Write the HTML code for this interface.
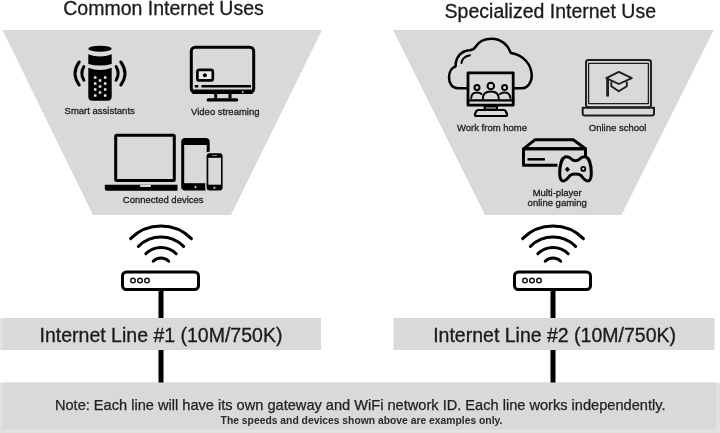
<!DOCTYPE html>
<html><head><meta charset="utf-8">
<style>
html,body{margin:0;padding:0;background:#fff;width:720px;height:433px;overflow:hidden}
svg{display:block;filter:blur(0.5px)}
text{font-family:"Liberation Sans",sans-serif}
</style></head>
<body>
<svg width="720" height="433" viewBox="0 0 720 433">


<!-- trapezoids -->
<polygon points="2.5,30 322,30 231,215 93,215" fill="#d9d9d9"/>
<polygon points="393,30 713.8,30 621.5,215 485,215" fill="#d9d9d9"/>

<!-- boxes -->
<rect x="0" y="318" width="2.2" height="32" fill="#e2e2e2"/>
<rect x="2.2" y="318" width="318.8" height="32" fill="#d9d9d9"/>
<rect x="393.5" y="318" width="321" height="32" fill="#d9d9d9"/>
<rect x="0" y="382.5" width="720" height="50.5" fill="#e2e2e2"/>
<rect x="2.3" y="382.5" width="714" height="47.3" fill="#d9d9d9"/>

<!-- routers -->
<g fill="none" stroke="#000" stroke-width="3" stroke-linecap="round">
    <path d="M130.6,238.6 A43,43 0 0 1 191.4,238.6"/>
    <path d="M138.4,246.4 A32,32 0 0 1 183.6,246.4"/>
    <path d="M145.8,253.8 A21.5,21.5 0 0 1 176.2,253.8"/>
    <path d="M153.2,261.2 A11,11 0 0 1 168.8,261.2"/>
  </g>
<g>
    <rect x="122.5" y="272" width="76" height="17.5" rx="4" fill="#fff" stroke="#000" stroke-width="3"/>
    <g fill="none" stroke="#1a1a1a" stroke-width="1.5">
      <circle cx="133" cy="280.5" r="2.3"/>
      <circle cx="140" cy="280.5" r="2.3"/>
      <circle cx="147" cy="280.5" r="2.3"/>
    </g>
    <rect x="158.5" y="290" width="5" height="28" fill="#000"/>
    <rect x="158.5" y="350" width="5" height="32.5" fill="#000"/>
  </g>
<g transform="translate(392 0)" fill="none" stroke="#000" stroke-width="3" stroke-linecap="round">
    <path d="M130.6,238.6 A43,43 0 0 1 191.4,238.6"/>
    <path d="M138.4,246.4 A32,32 0 0 1 183.6,246.4"/>
    <path d="M145.8,253.8 A21.5,21.5 0 0 1 176.2,253.8"/>
    <path d="M153.2,261.2 A11,11 0 0 1 168.8,261.2"/>
  </g>
<g transform="translate(392 0)">
    <rect x="122.5" y="272" width="76" height="17.5" rx="4" fill="#fff" stroke="#000" stroke-width="3"/>
    <g fill="none" stroke="#1a1a1a" stroke-width="1.5">
      <circle cx="133" cy="280.5" r="2.3"/>
      <circle cx="140" cy="280.5" r="2.3"/>
      <circle cx="147" cy="280.5" r="2.3"/>
    </g>
    <rect x="158.5" y="290" width="5" height="28" fill="#000"/>
    <rect x="158.5" y="350" width="5" height="32.5" fill="#000"/>
  </g>

<!-- titles -->
<text x="163.5" y="14.5" font-size="19.5" fill="#1a1a1a" stroke="#1a1a1a" stroke-width="0.3" text-anchor="middle">Common Internet Uses</text>
<text x="550.3" y="17.5" font-size="19.5" fill="#1a1a1a" stroke="#1a1a1a" stroke-width="0.3" text-anchor="middle">Specialized Internet Use</text>

<text x="161" y="341.7" font-size="19.5" fill="#1a1a1a" stroke="#1a1a1a" stroke-width="0.3" text-anchor="middle">Internet Line #1 (10M/750K)</text>
<text x="554.6" y="341.7" font-size="19.5" fill="#1a1a1a" stroke="#1a1a1a" stroke-width="0.3" text-anchor="middle">Internet Line #2 (10M/750K)</text>

<text x="360.2" y="409.5" font-size="14.6" fill="#222" stroke="#222" stroke-width="0.25" text-anchor="middle">Note: Each line will have its own gateway and WiFi network ID. Each line works independently.</text>
<text x="0" y="0" font-size="10.8" font-weight="bold" fill="#2a2a2a" text-anchor="middle" transform="translate(361.5 423.5) scale(0.958 1)">The speeds and devices shown above are examples only.</text>

<!-- captions -->
<g font-size="9.5" fill="#1e1e1e" stroke="#1e1e1e" stroke-width="0.3" text-anchor="middle">
<text x="99.7" y="114.4">Smart assistants</text>
<text x="225.3" y="114.6">Video streaming</text>
<text x="163.2" y="202.5">Connected devices</text>
<text x="492" y="131">Work from home</text>
<text x="617.6" y="131">Online school</text>
<text x="557.2" y="195.8">Multi-player</text>
<text x="557.2" y="206.2">online gaming</text>
</g>

<!-- smart speaker -->
<g fill="#000">
  <ellipse cx="100" cy="48.7" rx="11.7" ry="3"/>
  <path d="M88.3,54.2 Q100,58.8 111.7,54.2 L111.7,64 Q100,67 88.3,64 Z"/>
  <path d="M88.3,67.7 Q100,72.3 111.7,67.7 L111.7,96.5 Q111.7,100.7 107.5,100.7 L92.5,100.7 Q88.3,100.7 88.3,96.5 Z"/>
</g>
<g fill="#e6e6e6">
  <rect x="93.9" y="76.2" width="2.6" height="2.6" rx="0.5"/>
  <rect x="103.9" y="76.2" width="2.6" height="2.6" rx="0.5"/>
  <rect x="98.7" y="79.2" width="2.6" height="2.6" rx="0.5"/>
  <rect x="93.9" y="82.2" width="2.6" height="2.6" rx="0.5"/>
  <rect x="103.9" y="82.2" width="2.6" height="2.6" rx="0.5"/>
  <rect x="98.7" y="85.2" width="2.6" height="2.6" rx="0.5"/>
  <rect x="93.9" y="88.2" width="2.6" height="2.6" rx="0.5"/>
  <rect x="103.9" y="88.2" width="2.6" height="2.6" rx="0.5"/>
  <rect x="98.7" y="91.2" width="2.6" height="2.6" rx="0.5"/>
  <rect x="93.9" y="94.2" width="2.6" height="2.6" rx="0.5"/>
  <rect x="103.9" y="94.2" width="2.6" height="2.6" rx="0.5"/>
</g>
<g fill="none" stroke="#000" stroke-width="3" stroke-linecap="round">
  <path d="M79.2,62 Q70.8,73.5 79.2,85"/>
  <path d="M83.9,66.5 Q79.7,73.5 83.9,80.2"/>
  <path d="M120.8,62 Q129.2,73.5 120.8,85"/>
  <path d="M116.1,66.5 Q120.3,73.5 116.1,80.2"/>
</g>

<!-- video streaming -->
<g>
  <rect x="191.3" y="47.2" width="62.4" height="45.3" rx="4" fill="none" stroke="#000" stroke-width="3"/>
  <rect x="192.5" y="89.5" width="60" height="4.5" fill="#000"/>
  <rect x="201.4" y="85" width="49.6" height="2.5" fill="#000"/>
  <rect x="194.8" y="85" width="3.5" height="2.5" fill="#000"/>
  <rect x="197.4" y="69.9" width="15.4" height="10.5" rx="2" fill="#ececec" stroke="#000" stroke-width="2.7"/>
  <circle cx="204.9" cy="75.2" r="2" fill="#000"/>
  <circle cx="242.7" cy="92" r="0.9" fill="#ccc"/>
  <rect x="214.2" y="93" width="3" height="5.5" fill="#000"/>
  <rect x="228.5" y="93" width="3" height="5.5" fill="#000"/>
  <rect x="206.7" y="98.2" width="31.5" height="3.3" rx="1.5" fill="#000"/>
</g>

<!-- connected devices -->
<g>
  <rect x="115.7" y="135.3" width="58.6" height="45.1" rx="1" fill="none" stroke="#000" stroke-width="3"/>
  <path d="M104.8,184.8 H177.5 V190.7 H107 Q104.8,190.7 104.8,188.5 Z" fill="#000"/>
  <rect x="140" y="184.8" width="11" height="2.3" rx="1" fill="#d9d9d9"/>
  <rect x="181.2" y="137.9" width="28.5" height="52.6" rx="4" fill="#000"/>
  <rect x="184.2" y="145" width="22.5" height="38.2" fill="#d9d9d9"/>
  <path d="M195.5,185.8 V188.2 M194.3,187 H196.7" stroke="#d9d9d9" stroke-width="0.9"/>
  <rect x="205.2" y="151.7" width="19" height="40.3" rx="4" fill="#d9d9d9"/>
  <rect x="206.6" y="153.2" width="16" height="37.3" rx="3" fill="#000"/>
  <rect x="208.3" y="157.8" width="12.7" height="26.9" fill="#d9d9d9"/>
  <rect x="212" y="155" width="5" height="1" fill="#888"/>
  <rect x="213.4" y="186.8" width="2" height="2" fill="#bbb"/>
</g>

<!-- work from home -->
<g fill="none" stroke="#000" stroke-width="2.5" stroke-linecap="round" stroke-linejoin="round">
  <path d="M466.5,88.2 H457.9 C452,88.2 449,83 449,77.4 C449,71.5 452,67.5 455.5,66.5 C455.5,56.5 462,50.5 469.5,50.2 C472.5,50 474.5,48.5 475.5,46.8 C479,41 485,38.7 491.6,38.7 C501,38.7 508,45 510.9,53 C523,55 531.7,64 531.7,76 C531.7,83 527,88.2 522.4,88.2 H514.6"/>
  <path d="M461.5,63 C462,59 465.5,56 470,55.2" stroke-width="2"/>
  <rect x="468" y="72.9" width="45.2" height="32.3" fill="#d9d9d9" stroke-width="2.8"/>
  <path d="M468,100.4 H513.3" stroke-width="2.4"/>
  <circle cx="490.8" cy="86" r="3.3" stroke-width="2"/>
  <path d="M482.8,98.8 C482.8,94 486,91.5 490.8,91.5 C495.6,91.5 498.8,94 498.8,98.8" stroke-width="2"/>
  <circle cx="477" cy="87.6" r="2.5" stroke-width="2"/>
  <path d="M471.2,98 C471.5,94.5 474,92.6 477,92.6 C479,92.6 480.5,93.1 481.5,94" stroke-width="2"/>
  <circle cx="504.6" cy="87.6" r="2.5" stroke-width="2"/>
  <path d="M510.4,98 C510.1,94.5 507.6,92.6 504.6,92.6 C502.6,92.6 501.1,93.1 500.1,94" stroke-width="2"/>
  <rect x="484.6" y="106.4" width="12.4" height="3.2" stroke-width="2"/>
  <path d="M478,110 H504 Q505,110 505.6,111 L507,114 Q507.5,116 505.5,116 H476.5 Q474.5,116 475,114 L476.4,111 Q477,110 478,110 Z" stroke-width="2.2"/>
</g>

<!-- online school -->
<g fill="none" stroke="#1e1e1e" stroke-linejoin="round">
  <rect x="586" y="60" width="65" height="47.2" rx="2.5" stroke-width="1.9"/>
  <rect x="588.6" y="63.4" width="59.8" height="40.2" stroke-width="1.3"/>
  <path d="M582.7,107.7 H654 V113.5 Q654,115.5 652,115.5 H584.7 Q582.7,115.5 582.7,113.5 Z" stroke-width="2"/>
  <path d="M606.3,78.2 L618.8,71.9 L631.8,78.2 L618.8,84 Z" stroke-width="1.9"/>
  <path d="M611.3,81.5 V86.3 L618.8,91.3 L626.8,86.3 V81.5" stroke-width="1.9"/>
  <path d="M607.6,78.6 V96.5" stroke-width="2.8"/>
</g>

<!-- gaming -->
<g fill="none" stroke="#000" stroke-width="3" stroke-linejoin="round">
  <path d="M523.5,148.8 L534.8,139.8 H573.2 L585.5,148.8 Z"/>
  <path d="M557.4,165.3 H523.5 V148.8 H585.5 V156"/>
  <path d="M527.5,159.3 H544.9" stroke-width="2.5"/>
  <path d="M565,157 C567.5,156 570,157.5 572,159.5 C573.5,161 577.5,161 579,159.5 C581,157.5 583.5,156 586,157 C589.5,158.5 591.3,166 591.3,173.5 C591.3,178.5 590,181 587.5,181 C585,181 583,178 581,175.5 C579.5,174 577.5,174 575.5,174 C573.5,174 571.5,174 570,175.5 C568,178 566,181 563.5,181 C561,181 559.7,178.5 559.7,173.5 C559.7,166 561.5,158.5 565,157 Z" fill="#d9d9d9"/>
  <path d="M567.4,167 L569.6,169.4 L567.4,171.8 L565.2,169.4 Z" fill="#000" stroke-width="0.8"/>
  <circle cx="583.3" cy="168.9" r="2" stroke-width="1.8"/>
</g>
</svg>
</body></html>
